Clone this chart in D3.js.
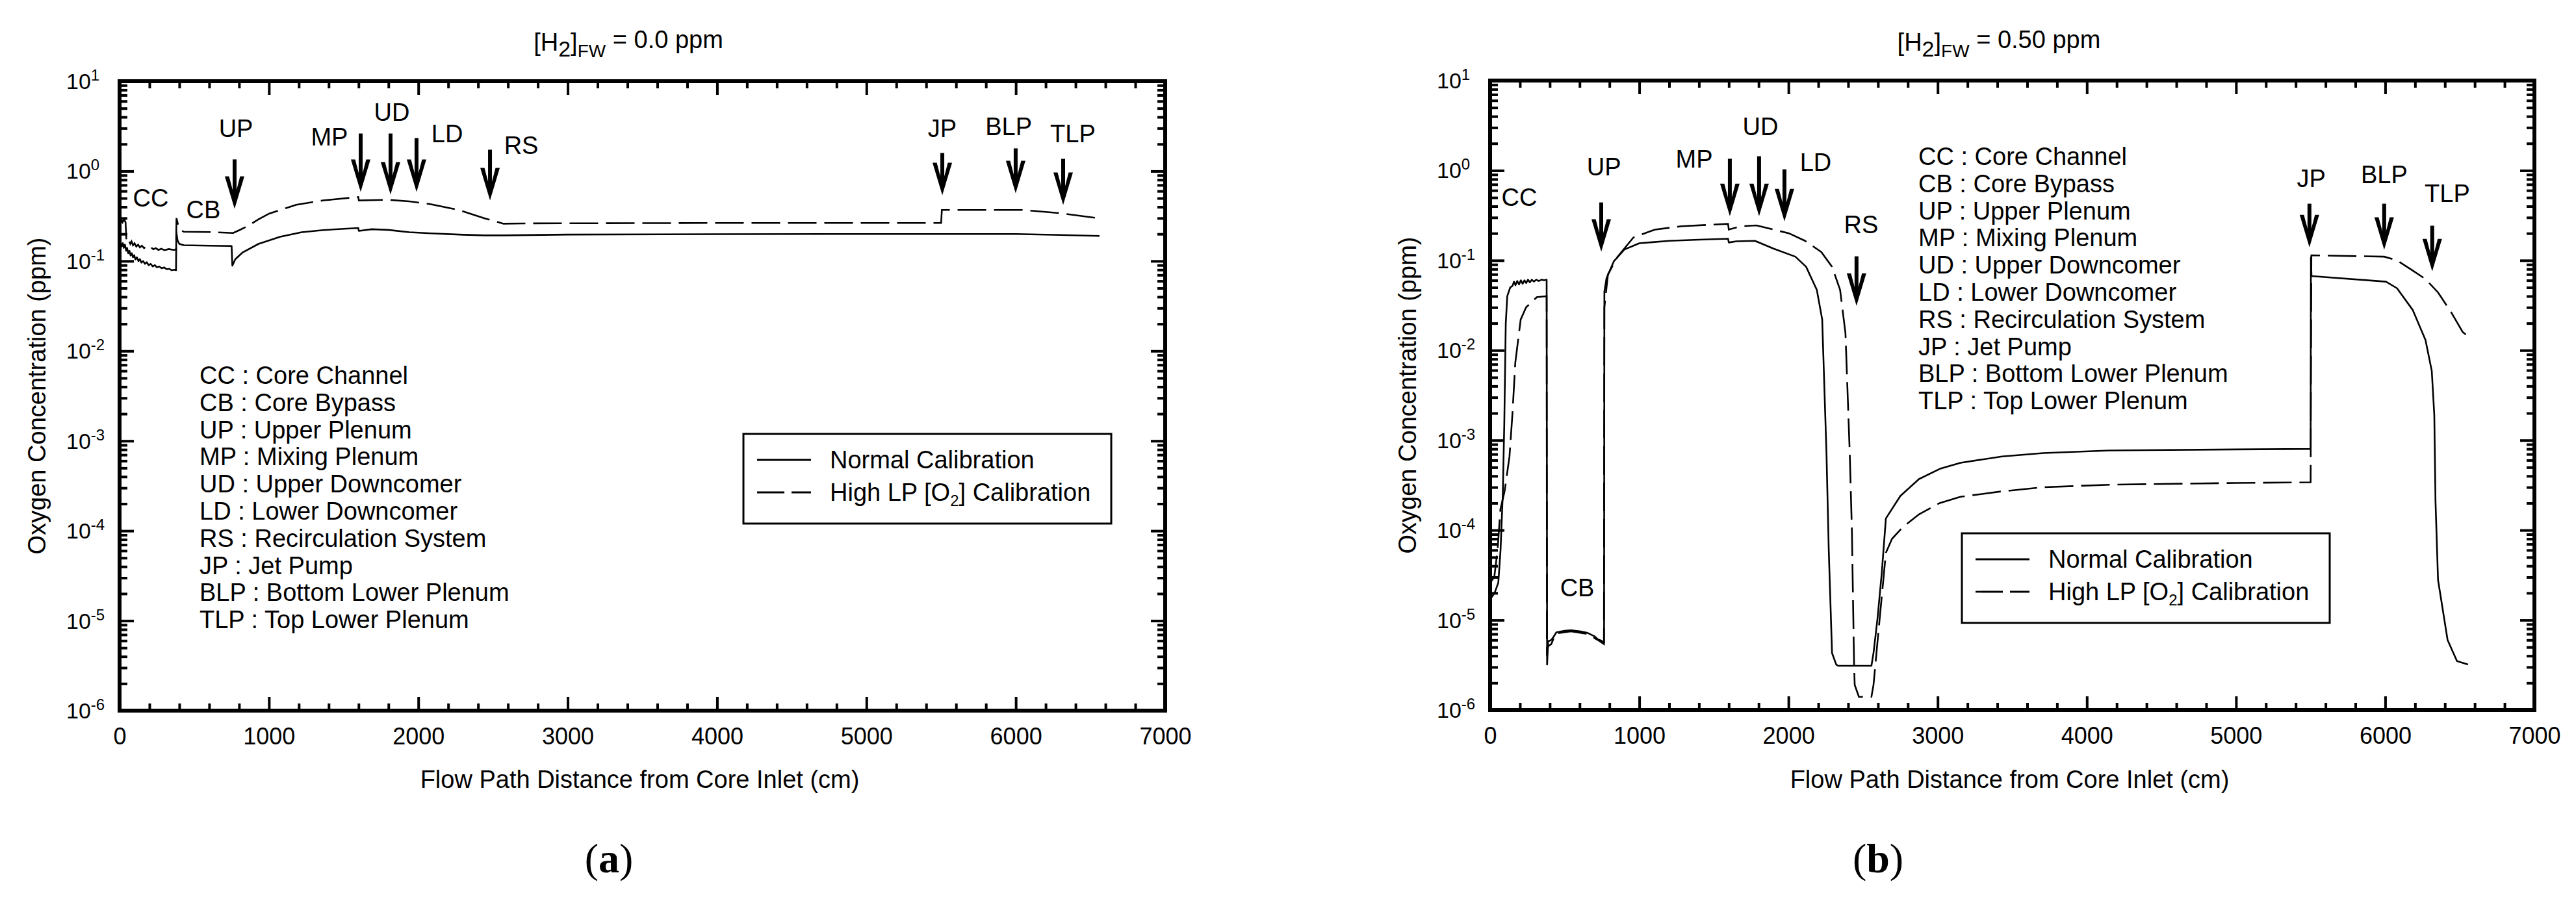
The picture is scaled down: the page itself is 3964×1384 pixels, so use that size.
<!DOCTYPE html>
<html>
<head>
<meta charset="utf-8">
<script src="https://cdn.jsdelivr.net/npm/d3@7"></script>
<style>
  body { margin: 0; background: #fff; }
  svg { display: block; }
  text { font-family: "Liberation Sans", Arial, Helvetica, sans-serif; fill: #000; }
</style>
</head>
<body>
<svg id="chart" width="3964" height="1384"></svg>
<script>
// ---------- data (distance in cm, concentration in ppm) ----------
var xMajorTicks = [0, 1000, 2000, 3000, 4000, 5000, 6000, 7000];
var yDecades = [-6, -5, -4, -3, -2, -1, 0, 1];
var abbreviations = ["CC : Core Channel", "CB : Core Bypass", "UP : Upper Plenum", "MP : Mixing Plenum",
  "UD : Upper Downcomer", "LD : Lower Downcomer", "RS : Recirculation System", "JP : Jet Pump",
  "BLP : Bottom Lower Plenum", "TLP : Top Lower Plenum"];
var seriesNames = ["Normal Calibration", "High LP [O2] Calibration"];

// (a) [H2]FW = 0.0 ppm
var normalA = [[0,0.155],[8,0.16],[14,0.145],[22,0.158],[28,0.14],[36,0.152],[44,0.13],[50,0.14],[58,0.122],
  [66,0.13],[74,0.115],[82,0.122],[90,0.11],[98,0.116],[106,0.104],[116,0.11],[126,0.1],[136,0.105],[146,0.096],
  [158,0.1],[170,0.093],[182,0.097],[195,0.09],[208,0.093],[222,0.087],[236,0.09],[250,0.085],[266,0.087],
  [282,0.083],[298,0.085],[315,0.081],[332,0.082],[350,0.079],[368,0.08],[378,0.079],
  [380,0.21],[388,0.17],[400,0.155],[430,0.15],[600,0.148],[750,0.147],[755,0.089],[775,0.105],[822,0.124],
  [930,0.155],[1075,0.186],[1219,0.209],[1363,0.221],[1598,0.233],[1602,0.216],[1688,0.226],[1796,0.222],
  [1940,0.209],[2085,0.203],[2301,0.196],[2445,0.193],[2571,0.193],[3000,0.197],[4000,0.199],[5000,0.2],
  [5500,0.2],[6000,0.2],[6300,0.195],[6560,0.19]];
var highA = [[0,0.28],[10,0.29],[20,0.27],[30,0.29],[40,0.27],[46,0.17],[54,0.16],[62,0.17],[72,0.155],[80,0.165],
  [90,0.15],[100,0.158],[112,0.145],[124,0.152],[136,0.142],[150,0.148],[164,0.139],[178,0.145],[194,0.137],
  [210,0.142],[226,0.135],[242,0.139],[260,0.133],[280,0.137],[300,0.132],[330,0.136],[360,0.133],[378,0.134],
  [381,0.3],[395,0.24],[410,0.22],[430,0.212],[600,0.21],[760,0.205],[800,0.22],[858,0.245],[930,0.291],
  [1003,0.338],[1183,0.422],[1363,0.472],[1598,0.515],[1602,0.472],[1796,0.48],[1940,0.461],[2085,0.428],
  [2265,0.372],[2445,0.298],[2571,0.26],[2700,0.262],[4000,0.265],[5500,0.265],[5505,0.37],[6042,0.37],
  [6300,0.34],[6560,0.298]];
// region markers: label position (lx, ly) and optional arrow (x, tip, top)
var markersA = [
  {name:"CC", lx:209, ly:0.406},
  {name:"CB", lx:561, ly:0.301},
  {name:"UP", lx:779, ly:2.41, x:770, tip:0.38, top:1.35},
  {name:"MP", lx:1405, ly:1.94, x:1614, tip:0.586, top:2.62},
  {name:"UD", lx:1823, ly:3.65, x:1814, tip:0.548, top:2.62},
  {name:"LD", lx:2193, ly:2.08, x:1988, tip:0.586, top:2.33},
  {name:"RS", lx:2689, ly:1.54, x:2480, tip:0.472, top:1.73},
  {name:"JP", lx:5508, ly:2.41, x:5508, tip:0.539, top:1.59},
  {name:"BLP", lx:5952, ly:2.53, x:5999, tip:0.567, top:1.79},
  {name:"TLP", lx:6382, ly:2.11, x:6317, tip:0.42, top:1.37}];

// (b) [H2]FW = 0.50 ppm
var normalB = [[0,1.7e-5],[30,2e-5],[55,2.6e-5],[70,6e-5],[85,2.5e-4],[95,1.5e-3],[105,0.02],[115,0.04],[135,0.05],
  [150,0.052],[160,0.058],[170,0.053],[182,0.059],[194,0.054],[206,0.06],[218,0.055],[230,0.06],[242,0.056],
  [254,0.061],[266,0.057],[280,0.061],[294,0.058],[310,0.061],[326,0.059],[345,0.061],[362,0.06],[379,0.061],
  [382,3.2e-6],[389,5.8e-6],[410,6e-6],[425,6.5e-6],[444,7.3e-6],[500,7.6e-6],[542,7.7e-6],[600,7.5e-6],
  [653,7.2e-6],[700,6.6e-6],[722,6.1e-6],[745,5.9e-6],[764,5.6e-6],[766,0.045],[780,0.063],[830,0.098],
  [900,0.132],[1000,0.155],[1200,0.165],[1400,0.17],[1595,0.174],[1600,0.158],[1650,0.163],[1775,0.165],
  [1900,0.135],[2046,0.11],[2118,0.085],[2190,0.047],[2226,0.022],[2255,6.9e-4],[2270,6e-5],[2292,4.3e-6],
  [2320,3.2e-6],[2333,3.1e-6],[2556,3.1e-6],[2570,4.3e-6],[2597,1.05e-5],[2625,3.3e-5],[2653,1.35e-4],
  [2750,2.4e-4],[2875,3.7e-4],[3014,4.8e-4],[3153,5.6e-4],[3431,6.6e-4],[3708,7.2e-4],[4153,7.7e-4],
  [5000,7.9e-4],[5500,8.0e-4],[5502,0.108],[5506,0.067],[6005,0.058],[6079,0.049],[6185,0.028],[6270,0.013],
  [6312,0.0059],[6329,0.0019],[6337,2.1e-4],[6354,2.8e-5],[6418,6e-6],[6481,3.5e-6],[6555,3.2e-6]];
var highB = [[0,2.6e-5],[28,3e-5],[50,6e-5],[69,1.7e-4],[97,2.7e-4],[130,6.6e-4],[150,2e-3],[169,7.3e-3],
  [205,0.022],[241,0.03],[313,0.039],[379,0.04],[381,4e-6],[389,5.1e-6],[410,5.4e-6],[430,6.5e-6],[444,7.1e-6],
  [542,7.5e-6],[653,7e-6],[722,6e-6],[763,5.4e-6],[766,0.03],[790,0.07],[855,0.11],[961,0.18],[1105,0.22],
  [1286,0.24],[1595,0.255],[1600,0.22],[1680,0.24],[1785,0.245],[2003,0.2],[2111,0.165],[2220,0.124],
  [2292,0.085],[2346,0.047],[2382,0.0155],[2411,6.9e-4],[2425,1e-4],[2440,3e-6],[2444,1.9e-6],[2472,1.4e-6],
  [2556,1.4e-6],[2570,1.9e-6],[2597,5.8e-6],[2653,5.6e-5],[2694,8e-5],[2764,1.07e-4],[2875,1.5e-4],
  [3014,2e-4],[3153,2.35e-4],[3431,2.7e-4],[3708,3e-4],[4153,3.2e-4],[5000,3.35e-4],[5500,3.4e-4],
  [5505,0.114],[5600,0.113],[5993,0.11],[6079,0.1],[6185,0.077],[6270,0.062],[6354,0.044],[6439,0.027],
  [6519,0.016],[6540,0.015]];
var markersB = [
  {name:"CC", lx:196, ly:0.406},
  {name:"CB", lx:584, ly:1.84e-5},
  {name:"UP", lx:763, ly:0.887, x:745, tip:0.125, top:0.441},
  {name:"MP", lx:1368, ly:1.07, x:1607, tip:0.311, top:1.35},
  {name:"UD", lx:1812, ly:2.49, x:1803, tip:0.311, top:1.44},
  {name:"LD", lx:2182, ly:0.998, x:1973, tip:0.272, top:1.03},
  {name:"RS", lx:2487, ly:0.202, x:2456, tip:0.0313, top:0.111},
  {name:"JP", lx:5505, ly:0.658, x:5492, tip:0.14, top:0.427},
  {name:"BLP", lx:5993, ly:0.728, x:5993, tip:0.131, top:0.427},
  {name:"TLP", lx:6416, ly:0.449, x:6315, tip:0.0756, top:0.243}];

// ---------- layout ----------
var panels = [
  {h2:"0.0", caption:"a", normal:normalA, high:highA, markers:markersA,
   left:184, right:1793, top:125, bottom:1094, legendX:1144, legendY:668, listX:307, listY:578, captionX:937},
  {h2:"0.50", caption:"b", normal:normalB, high:highB, markers:markersB,
   left:2293, right:3900, top:124, bottom:1093, legendX:3019, legendY:821, listX:2952, listY:241, captionX:2890}
];

var svg = d3.select("#chart");

function drawPanel(p) {
  var x = d3.scaleLinear().domain([0, 7000]).range([p.left, p.right]);
  var y = d3.scaleLog().domain([1e-6, 10]).range([p.bottom, p.top]);
  var g = svg.append("g");

  // curves
  var line = d3.line().x(function(d){ return x(d[0]); }).y(function(d){ return y(d[1]); });
  g.append("path").datum(p.normal).attr("d", line)
    .attr("fill", "none").attr("stroke", "#000").attr("stroke-width", 2.6).attr("stroke-linejoin", "round");
  g.append("path").datum(p.high).attr("d", line)
    .attr("fill", "none").attr("stroke", "#000").attr("stroke-width", 2.6).attr("stroke-dasharray", "44,12");

  // ticks (all pointing inward, on four sides)
  var minorX = d3.range(0, 7001, 200).filter(function(v){ return v % 1000 !== 0; });
  var minorY = [];
  yDecades.slice(0, -1).forEach(function(k){
    for (var m = 2; m <= 9; m++) minorY.push(m * Math.pow(10, k));
  });
  var majorY = yDecades.map(function(k){ return Math.pow(10, k); });

  function addAxis(axis, tx, ty) {
    var a = g.append("g").attr("transform", "translate(" + tx + "," + ty + ")").call(axis);
    a.select(".domain").remove();
    a.selectAll(".tick line").attr("stroke-width", 4);
    return a;
  }
  var xb = addAxis(d3.axisBottom(x).tickValues(xMajorTicks).tickFormat(d3.format("d"))
    .tickSizeInner(-21).tickSizeOuter(0).tickPadding(26), 0, p.bottom);
  xb.selectAll("text").attr("font-size", 36).attr("font-family", "Liberation Sans, Arial, sans-serif");
  addAxis(d3.axisBottom(x).tickValues(minorX).tickSize(-11).tickFormat(""), 0, p.bottom);
  addAxis(d3.axisTop(x).tickValues(xMajorTicks).tickSize(-21).tickFormat(""), 0, p.top);
  addAxis(d3.axisTop(x).tickValues(minorX).tickSize(-11).tickFormat(""), 0, p.top);
  addAxis(d3.axisLeft(y).tickValues(majorY).tickSize(-22).tickFormat(""), p.left, 0);
  addAxis(d3.axisLeft(y).tickValues(minorY).tickSize(-12).tickFormat(""), p.left, 0);
  addAxis(d3.axisRight(y).tickValues(majorY).tickSize(-22).tickFormat(""), p.right, 0);
  addAxis(d3.axisRight(y).tickValues(minorY).tickSize(-12).tickFormat(""), p.right, 0);

  // frame
  g.append("rect").attr("x", p.left).attr("y", p.top)
    .attr("width", p.right - p.left).attr("height", p.bottom - p.top)
    .attr("fill", "none").attr("stroke", "#000").attr("stroke-width", 6);

  // y tick labels 10^k
  var yl = g.selectAll(".ylab").data(yDecades).enter().append("text")
    .attr("class", "ylab")
    .attr("x", p.left - 82)
    .attr("y", function(k){ return y(Math.pow(10, k)) + 12; })
    .attr("font-size", 34);
  yl.append("tspan").text("10");
  yl.append("tspan").attr("font-size", 24).attr("dy", -13).text(function(k){ return k; });

  // axis titles
  g.append("text")
    .attr("transform", "translate(" + (p.left - 114) + "," + ((p.top + p.bottom) / 2) + ") rotate(-90)")
    .attr("text-anchor", "middle").attr("font-size", 38)
    .text("Oxygen Concentration (ppm)");
  g.append("text").attr("x", (p.left + p.right) / 2 - 4).attr("y", 1213)
    .attr("text-anchor", "middle").attr("font-size", 38)
    .text("Flow Path Distance from Core Inlet (cm)");

  // title [H2]FW = ... ppm
  var t = g.append("text").attr("x", p.left + 783).attr("y", 78)
    .attr("text-anchor", "middle").attr("font-size", 38);
  t.append("tspan").text("[H");
  t.append("tspan").attr("font-size", 34).attr("dy", 9).text("2");
  t.append("tspan").attr("dy", -9).text("]");
  t.append("tspan").attr("font-size", 28).attr("dy", 10).text("FW");
  t.append("tspan").attr("dy", -14).text(" = " + p.h2 + " ppm");

  // region markers
  var mk = g.selectAll(".marker").data(p.markers).enter().append("g").attr("class", "marker");
  mk.append("text")
    .attr("x", function(d){ return x(d.lx); })
    .attr("y", function(d){ return y(d.ly); })
    .attr("text-anchor", "middle").attr("font-size", 38)
    .text(function(d){ return d.name; });
  var arrows = mk.filter(function(d){ return d.x !== undefined; });
  arrows.append("line")
    .attr("x1", function(d){ return x(d.x); }).attr("x2", function(d){ return x(d.x); })
    .attr("y1", function(d){ return y(d.top); }).attr("y2", function(d){ return y(d.tip) - 26; })
    .attr("stroke", "#000").attr("stroke-width", 6);
  arrows.append("path")
    .attr("d", function(d){
      var tx = x(d.x), ty = y(d.tip);
      return "M" + tx + "," + ty +
        "L" + (tx - 15) + "," + (ty - 50) + "L" + (tx - 8.5) + "," + (ty - 50) +
        "L" + (tx - 3) + "," + (ty - 29) + "L" + (tx + 3) + "," + (ty - 29) +
        "L" + (tx + 8.5) + "," + (ty - 50) + "L" + (tx + 15) + "," + (ty - 50) + "Z";
    })
    .attr("fill", "#000");

  // abbreviation list
  g.selectAll(".abbr").data(abbreviations).enter().append("text")
    .attr("class", "abbr")
    .attr("x", p.listX)
    .attr("y", function(d, i){ return p.listY + i * 41.8 + 13; })
    .attr("font-size", 38)
    .text(function(d){ return d; });

  // legend
  var lg = g.append("g").attr("transform", "translate(" + p.legendX + "," + p.legendY + ")");
  lg.append("rect").attr("width", 566).attr("height", 138)
    .attr("fill", "#fff").attr("stroke", "#000").attr("stroke-width", 3);
  seriesNames.forEach(function(name, i){
    var ry = 40 + i * 50;
    lg.append("line").attr("x1", 21).attr("x2", 104).attr("y1", ry).attr("y2", ry)
      .attr("stroke", "#000").attr("stroke-width", 2.8)
      .attr("stroke-dasharray", i === 1 ? "42,11" : null);
    var lt = lg.append("text").attr("x", 133).attr("y", ry + 13).attr("font-size", 38);
    var parts = name.split("O2");
    if (parts.length === 2) {
      lt.append("tspan").text(parts[0] + "O");
      lt.append("tspan").attr("font-size", 24).attr("dy", 8).text("2");
      lt.append("tspan").attr("dy", -8).text(parts[1]);
    } else {
      lt.text(name);
    }
  });

  // caption (a)/(b)
  var c = g.append("text").attr("x", p.captionX).attr("y", 1343)
    .attr("text-anchor", "middle").attr("font-size", 64)
    .style("font-family", "'Liberation Serif', 'Times New Roman', serif");
  c.append("tspan").text("(");
  c.append("tspan").attr("font-weight", "bold").text(p.caption);
  c.append("tspan").text(")");
}

panels.forEach(drawPanel);
</script>
</body>
</html>
